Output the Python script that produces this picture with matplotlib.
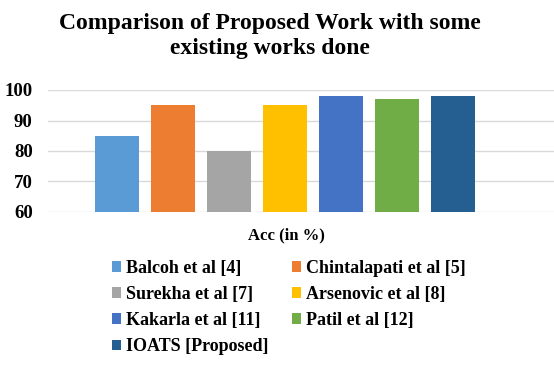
import matplotlib.pyplot as plt
import numpy as np

methods = ["Balcoh et al [4]", "Chintalapati et al [5]", "Surekha et al [7]",
           "Arsenovic et al [8]", "Kakarla et al [11]", "Patil et al [12]",
           "IOATS [Proposed]"]
accuracy = [85, 95, 80, 95, 98, 97, 98]
colors = ["#5B9BD5", "#ED7D31", "#A5A5A5", "#FFC000", "#4472C4", "#70AD47", "#255E91"]
yticks = [60, 70, 80, 90, 100]

plt.rcParams['font.family'] = ['Liberation Serif', 'DejaVu Serif']
plt.rcParams['font.weight'] = 'bold'

fig = plt.figure(figsize=(5.54, 3.69), dpi=100)
ax = fig.add_axes([48/554, 1 - 212/369, (554-48)/554, (212-90)/369])

x = np.arange(len(methods))
handles = []
for xi, v, c, lab in zip(x, accuracy, colors, methods):
    b = ax.bar(xi, v - 60, bottom=60, width=0.79, color=c, label=lab, zorder=3)
    handles.append(b)

ax.set_ylim(60, 100)
ax.set_xlim(-1.23, 7.81)
ax.set_yticks(yticks)
ax.set_yticklabels([str(t) for t in yticks], fontsize=13.5, fontweight='bold')
ax.set_xticks([])
ax.grid(axis='y', color='#D9D9D9', linewidth=1, zorder=0)
for s in ax.spines.values():
    s.set_visible(False)
ax.tick_params(axis='y', length=0, pad=11)

fig.text(286/554, 1 - 235/369, "Acc (in %)", ha='center', va='center',
         fontsize=12, fontweight='bold')
fig.text(270/554, 1 - 36/369, "Comparison of Proposed Work with some\nexisting works done",
         ha='center', va='center', fontsize=17, fontweight='bold', linespacing=1.25)

# legend filled row by row: reorder for matplotlib's column-wise filling
order = [0, 2, 4, 6, 1, 3, 5]
fig.legend([handles[i] for i in order], [methods[i] for i in order],
           loc='upper left', bbox_to_anchor=(112/554, 1 - 260/369),
           ncol=2, frameon=False, handlelength=0.5, handleheight=0.5,
           handletextpad=0.25, columnspacing=1.35, labelspacing=0.5,
           borderpad=0, borderaxespad=0,
           prop={'weight': 'bold', 'size': 13})

fig.savefig("out.png", dpi=100)
